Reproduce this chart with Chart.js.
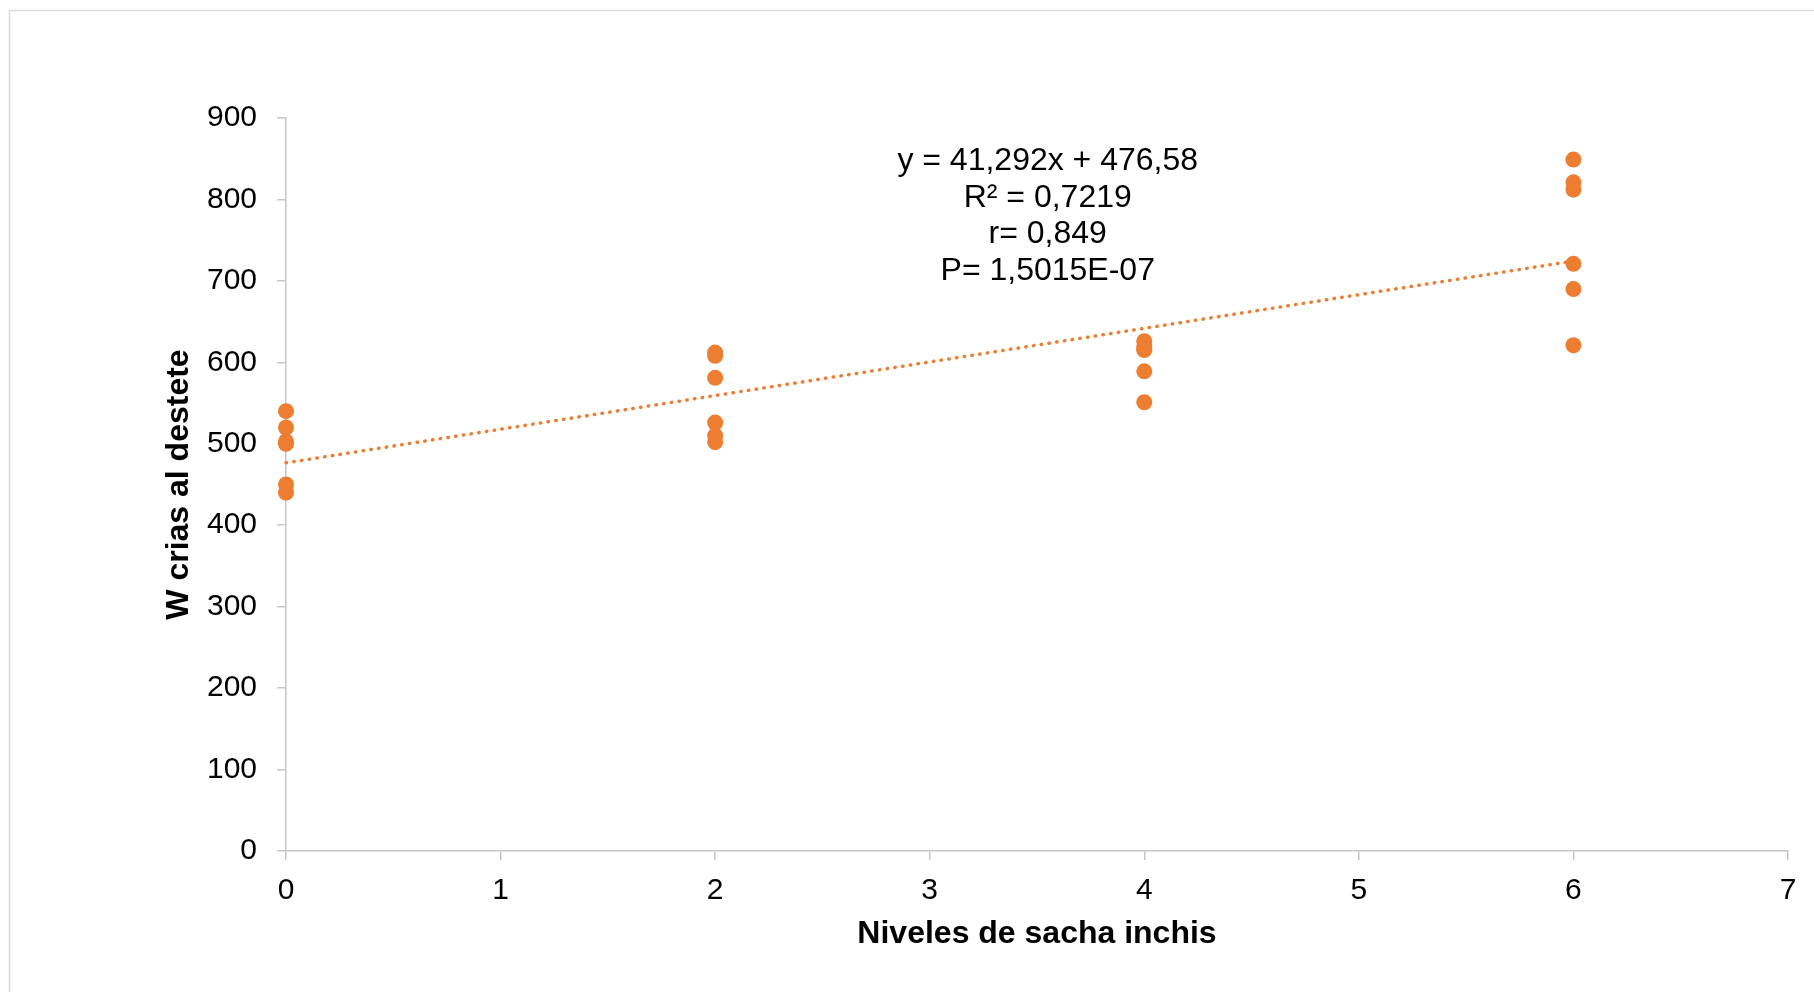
<!DOCTYPE html>
<html>
<head>
<meta charset="utf-8">
<script src="https://cdn.jsdelivr.net/npm/chart.js@4/dist/chart.umd.min.js"></script>
<style>
	body { margin: 0; background: #fff; }
</style>
</head>
<body>
<canvas id="destete" width="1814" height="992"></canvas>
<script>
// niveles de sacha inchis y pesos de crias al destete
const niveles = [0, 2, 4, 6]
const pesoNivel0 = [540, 520, 503, 500, 450, 440]
const pesoNivel2 = [612, 608, 581, 526, 510, 502]
const pesoNivel4 = [626, 619, 616, 615, 589, 551]
const pesoNivel6 = [849, 821, 812, 721, 690, 621]

// recta de tendencia tal como aparece en el grafico
const pendiente = 41.292
const intercepto = 476.58
const textoEcuacion = [
	"y = 41,292x + 476,58",
	"R² = 0,7219",
	"r= 0,849",
	"P= 1,5015E-07"
]

const xTicks = [0, 1, 2, 3, 4, 5, 6, 7]
const yTicks = [0, 100, 200, 300, 400, 500, 600, 700, 800, 900]

const naranja = "#ED7D31"
const gris = "#c6c6c6"
const fuente = "'Liberation Sans', Arial, sans-serif"

const grafico = () => {
	const grupos = [pesoNivel0, pesoNivel2, pesoNivel4, pesoNivel6]
	const puntos = []
	for (let i = 0; i < niveles.length; i++) {
		grupos[i].forEach(v => puntos.push({ x: niveles[i], y: v }))
	}

	const xMin = niveles[0]
	const xMax = niveles[niveles.length - 1]
	const tendencia = [
		{ x: xMin, y: pendiente * xMin + intercepto },
		{ x: xMax, y: pendiente * xMax + intercepto }
	]

	const marco = {
		id: 'marco',
		beforeDraw(chart) {
			const ctx = chart.ctx
			ctx.save()
			ctx.fillStyle = '#fff'
			ctx.fillRect(0, 0, chart.width, chart.height)
			ctx.strokeStyle = '#d9d9d9'
			ctx.lineWidth = 1.5
			ctx.strokeRect(9.5, 10.5, chart.width + 20, chart.height + 20)
			ctx.restore()
		}
	}

	const ecuacion = {
		id: 'ecuacion',
		afterDraw(chart) {
			const ctx = chart.ctx
			const cx = chart.scales.x.getPixelForValue(3.55)
			const cy = chart.scales.y.getPixelForValue(847)
			ctx.save()
			ctx.font = "32px " + fuente
			ctx.fillStyle = '#000'
			ctx.textAlign = 'center'
			ctx.textBaseline = 'middle'
			textoEcuacion.forEach((t, i) => ctx.fillText(t, cx, cy + i * 36.6))
			ctx.restore()
		}
	}

	const destete = document.getElementById("destete").getContext('2d')

	const chart = new Chart(destete, {
		type: 'scatter',
		data: {
			datasets: [
				{
					type: 'line',
					data: tendencia,
					borderColor: naranja,
					borderWidth: 3.5,
					borderDash: [0.5, 7.3],
					borderCapStyle: 'round',
					pointRadius: 0,
					fill: false,
					order: 0,
					clip: false
				},
				{
					data: puntos,
					backgroundColor: naranja,
					borderWidth: 0,
					pointRadius: 8,
					pointHoverRadius: 8,
					order: 1,
					clip: false
				}
			]
		},
		options: {
			responsive: false,
			animation: false,
			events: [],
			layout: { padding: { left: 0, top: 118, right: 26, bottom: 0 } },
			plugins: {
				legend: { display: false },
				tooltip: { enabled: false }
			},
			scales: {
				x: {
					type: 'linear',
					min: 0,
					max: 7,
					afterBuildTicks: s => { s.ticks = xTicks.map(v => ({ value: v })) },
					afterFit: s => { s.height = 141 },
					border: { color: gris, width: 1.5 },
					grid: { drawOnChartArea: false, color: gris, lineWidth: 1.5, tickLength: 9 },
					ticks: { color: '#000', padding: 12.5, font: { size: 30, family: fuente } },
					title: {
						display: true,
						text: "Niveles de sacha inchis",
						color: '#000',
						font: { size: 32, weight: 'bold', family: fuente },
						padding: { top: 0, bottom: 38.5 }
					}
				},
				y: {
					min: 0,
					max: 900,
					afterBuildTicks: s => { s.ticks = yTicks.map(v => ({ value: v })) },
					afterFit: s => { s.width = 286 },
					border: { color: gris, width: 1.5 },
					grid: { drawOnChartArea: false, color: gris, lineWidth: 1.5, tickLength: 9 },
					ticks: { color: '#000', padding: 20, font: { size: 30, family: fuente } },
					title: {
						display: true,
						text: "W crias al destete",
						color: '#000',
						font: { size: 32, weight: 'bold', family: fuente },
						padding: { top: 160, bottom: 0 }
					}
				}
			}
		},
		plugins: [marco, ecuacion]
	})
}

window.addEventListener('load', grafico)
</script>
</body>
</html>
